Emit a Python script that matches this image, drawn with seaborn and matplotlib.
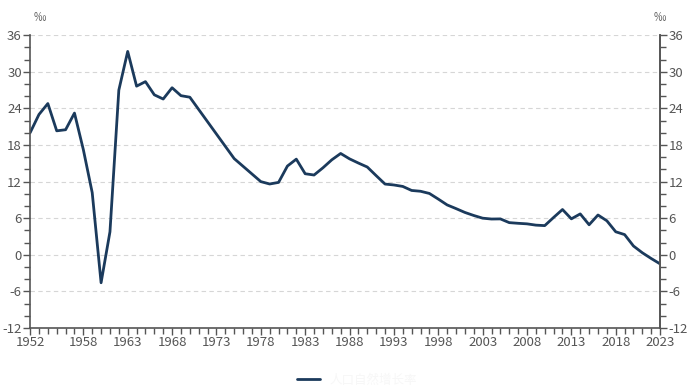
import matplotlib
matplotlib.use("Agg")
import matplotlib.pyplot as plt
import seaborn as sns
import pandas as pd
from matplotlib.ticker import MultipleLocator, FixedLocator

years = [1952, 1953, 1954, 1955, 1956, 1957, 1958, 1959, 1960, 1961, 1962, 1963,
         1964, 1965, 1966, 1967, 1968, 1969, 1970, 1975, 1978, 1979, 1980, 1981,
         1982, 1983, 1984, 1985, 1986, 1987, 1988, 1989, 1990, 1991, 1992, 1993,
         1994, 1995, 1996, 1997, 1998, 1999, 2000, 2001, 2002, 2003, 2004, 2005,
         2006, 2007, 2008, 2009, 2010, 2011, 2012, 2013, 2014, 2015, 2016, 2017,
         2018, 2019, 2020, 2021, 2022, 2023]
rates = [20.00, 23.00, 24.79, 20.32, 20.50, 23.23, 17.24, 10.19, -4.57, 3.78, 26.99, 33.33,
         27.64, 28.38, 26.22, 25.53, 27.38, 26.08, 25.83, 15.77, 12.00, 11.61, 11.87, 14.55,
         15.68, 13.29, 13.08, 14.26, 15.57, 16.61, 15.73, 15.04, 14.39, 12.98, 11.60, 11.45,
         11.21, 10.55, 10.42, 10.06, 9.14, 8.18, 7.58, 6.95, 6.45, 6.01, 5.87, 5.89,
         5.28, 5.17, 5.08, 4.87, 4.79, 6.13, 7.43, 5.90, 6.71, 4.93, 6.53, 5.58,
         3.78, 3.32, 1.45, 0.34, -0.60, -1.48]
xtick_years = [1952, 1958, 1963, 1968, 1973, 1978, 1983, 1988, 1993, 1998, 2003,
               2008, 2013, 2018, 2023]
yticks = [-12, -6, 0, 6, 12, 18, 24, 30, 36]
series_name = "人口自然增长率"
unit = "‰"

sns.set_theme(style="white")
plt.rcParams['font.family'] = ['Noto Sans CJK SC', 'DejaVu Sans']

df = pd.DataFrame({"year": years, "rate": rates})

fig = plt.figure(figsize=(7, 3.86), dpi=100)
ax = fig.add_axes([0.043, 0.150, 0.900, 0.759])
line_color = "#1b3a5c"
axis_color = "#555555"
text_color = "#555555"

sns.lineplot(data=df, x="year", y="rate", ax=ax, color=line_color, linewidth=2,
             label=series_name, legend=False)

ax.set_xlim(1952, 2023)
ax.set_ylim(-12, 36)
ax.set_xlabel("")
ax.set_ylabel("")
ax.xaxis.set_major_locator(FixedLocator(xtick_years))
ax.xaxis.set_minor_locator(MultipleLocator(1))
ax.set_xticklabels([str(y) for y in xtick_years])
ax.yaxis.set_major_locator(FixedLocator(yticks))
ax.yaxis.set_minor_locator(MultipleLocator(2))
ax.set_yticklabels([str(v) for v in yticks])

ax.grid(axis="y", which="major", color="#d6d6d6", linestyle=(0, (4, 3)), linewidth=0.8)
ax.set_axisbelow(True)

ax.spines["top"].set_visible(False)
for s in ["left", "right", "bottom"]:
    ax.spines[s].set_color(axis_color)
    ax.spines[s].set_linewidth(1.2)

ax.tick_params(axis="both", which="major", direction="out", length=5, width=1,
               color=axis_color, labelcolor=text_color, labelsize=9.5, pad=1)
ax.tick_params(axis="both", which="minor", direction="out", length=4, width=1,
               color=axis_color)
ax.tick_params(axis="y", which="both", left=True)
ax.tick_params(axis="x", which="both", bottom=True)

ax2 = ax.twinx()
ax2.set_ylim(-12, 36)
ax2.yaxis.set_major_locator(FixedLocator(yticks))
ax2.yaxis.set_minor_locator(MultipleLocator(2))
ax2.set_yticklabels([str(v) for v in yticks])
for s in ["top", "left", "bottom"]:
    ax2.spines[s].set_visible(False)
ax2.spines["right"].set_color(axis_color)
ax2.spines["right"].set_linewidth(1.2)
ax2.tick_params(axis="y", which="major", direction="out", length=5, width=1,
                color=axis_color, labelcolor=text_color, labelsize=9.5, pad=1, right=True)
ax2.tick_params(axis="y", which="minor", direction="out", length=4, width=1,
                color=axis_color, right=True)
ax2.grid(False)

fig.text(0.057, 0.955, unit, ha="center", va="center", fontsize=9, color="#666666")
fig.text(0.943, 0.955, unit, ha="center", va="center", fontsize=9, color="#666666")

handles, labels = ax.get_legend_handles_labels()
leg = fig.legend(handles, labels, loc="center", bbox_to_anchor=(0.51, 0.015),
                 frameon=False, fontsize=9, handlelength=1.8)
for t in leg.get_texts():
    t.set_color("#f7f7f7")

fig.savefig("out.png", dpi=100)
